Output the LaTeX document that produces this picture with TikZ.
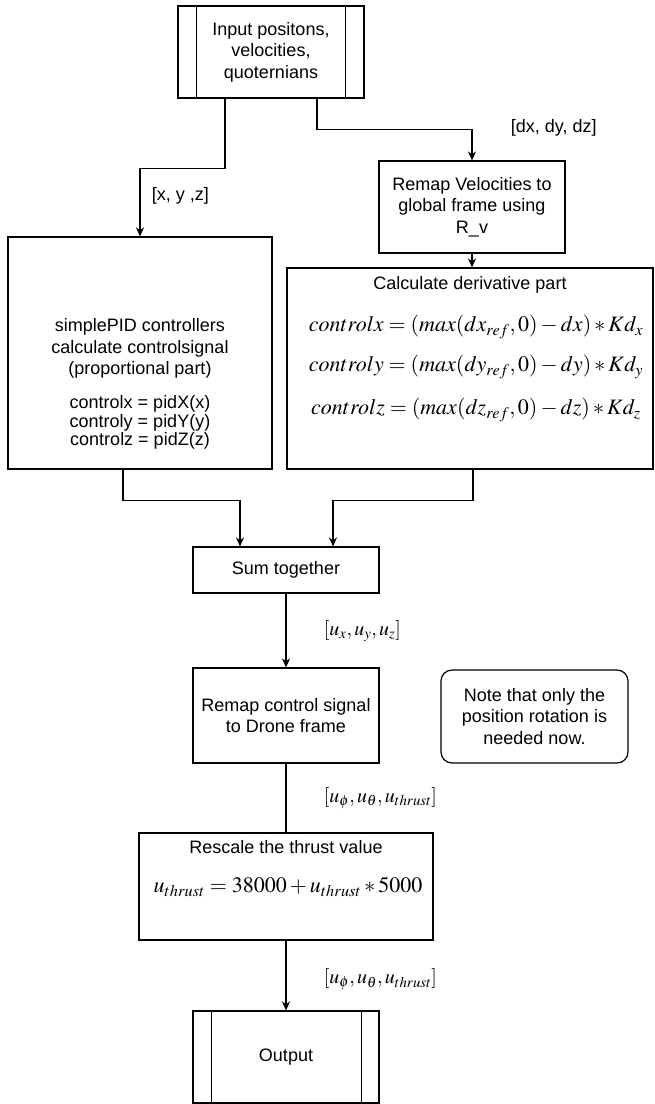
\documentclass[tikz,border=0pt]{standalone}
\usepackage{amsmath}
\usepackage{mathptmx}
\usepackage[no-math]{fontspec}
\setmainfont{Liberation Sans}
\usetikzlibrary{arrows.meta, calc, positioning}
\tikzstyle{process} = [rectangle, line width=1.2pt, minimum width=186pt, minimum height=92pt, text centered, align=center, draw=black]
\tikzstyle{predef} = [process]
\tikzstyle{note} = [process, rounded corners=11pt, minimum width=187pt, minimum height=93pt]
\tikzstyle{eqn} = [font=\fontsize{22}{26}\selectfont]
\tikzstyle{textlbl} = [anchor=west]
\tikzstyle{mathlbl} = [anchor=west, font=\fontsize{20}{24}\selectfont]
\tikzstyle{arrow} = [line width=1.2pt,->,>={Stealth[length=9pt,width=8pt]}]
\tikzstyle{line} = [line width=1.2pt]

\begin{document}
\begin{tikzpicture}[x=1pt, y=1pt, font=\fontsize{18}{21.6}\selectfont]
		\useasboundingbox (0,0) rectangle (654,-1104);
		\node (Input) [predef] at (271,-52) {Input positons,\\velocities,\\quoternians};
		\node (RemapVel) [process] at (472,-207) {Remap Velocities to\\global frame using\\R\_v};
		\node (PID) [process, minimum width=264pt, minimum height=232pt] at (140,-353) {};
		\node (PIDText) [align=center] at (140,-384) {simplePID controllers\\calculate controlsignal\\(proportional part)\\[12pt]controlx = pidX(x)\\[-3pt]controly = pidY(y)\\[-3pt]controlz = pidZ(z)};
		\node (Deriv) [process, minimum width=366pt, minimum height=201pt] at (470,-368.5) {};
		\node (DerivTitle) at (470,-285) {Calculate derivative part};
		\node (DerivX) [eqn] at (476,-327) {$controlx = (max(dx_{ref},0) - dx) \ast Kd_x$};
		\node (DerivY) [eqn] at (476,-367) {$controly = (max(dy_{ref},0) - dy) \ast Kd_y$};
		\node (DerivZ) [eqn] at (476,-410) {$controlz = (max(dz_{ref},0) - dz) \ast Kd_z$};
		\node (Sum) [process, minimum height=46pt] at (286,-570) {Sum together};
		\node (RemapCtrl) [process, minimum height=95pt] at (286,-715.5) {Remap control signal\\to Drone frame};
		\node (Note) [note] at (534.5,-716.5) {Note that only the\\position rotation is\\needed now.};
		\node (Rescale) [process, minimum width=294pt, minimum height=107pt] at (286,-886.5) {};
		\node (RescaleTitle) at (286,-847) {Rescale the thrust value};
		\node (RescaleEq) [eqn] at (288,-887) {$u_{thrust} = 38000 + u_{thrust} \ast 5000$};
		\node (Output) [predef] at (286,-1057) {Output};

		% side bars of the predefined process boxes
		\draw [line] ([xshift=19pt]Input.north west) -- ([xshift=19pt]Input.south west);
		\draw [line] ([xshift=-19pt]Input.north east) -- ([xshift=-19pt]Input.south east);
		\draw [line] ([xshift=19pt]Output.north west) -- ([xshift=19pt]Output.south west);
		\draw [line] ([xshift=-18pt]Output.north east) -- ([xshift=-18pt]Output.south east);

		\draw [arrow] ([xshift=-46pt]Input.south) -- ++(0,-70) -| node[textlbl, pos=0.7, xshift=8pt]{[x, y ,z]} (PID);
		\draw [arrow] ([xshift=46pt]Input.south) -- ++(0,-31) -| node[textlbl, pos=0.5, xshift=35pt, yshift=2pt]{[dx, dy, dz]} (RemapVel);
		\draw [arrow] (RemapVel.south) -- (RemapVel.south |- Deriv.north);
		\draw [arrow] ([xshift=-17pt]PID.south) -- ++(0,-31) -| ([xshift=-46pt]Sum.north);
		\draw [arrow] ([xshift=3pt]Deriv.south) -- ++(0,-31) -| ([xshift=47pt]Sum.north);
		\draw [arrow] (Sum) -- node[mathlbl, xshift=34pt]{$[u_x, u_y, u_z]$} (RemapCtrl);
		\draw [line] (RemapCtrl) -- node[mathlbl, xshift=34pt]{$[u_\phi, u_\theta, u_{thrust}]$} (Rescale);
		\draw [arrow] (Rescale) -- node[mathlbl, xshift=34pt, yshift=-4pt]{$[u_\phi, u_\theta, u_{thrust}]$} (Output);
	\end{tikzpicture}
\end{document}
